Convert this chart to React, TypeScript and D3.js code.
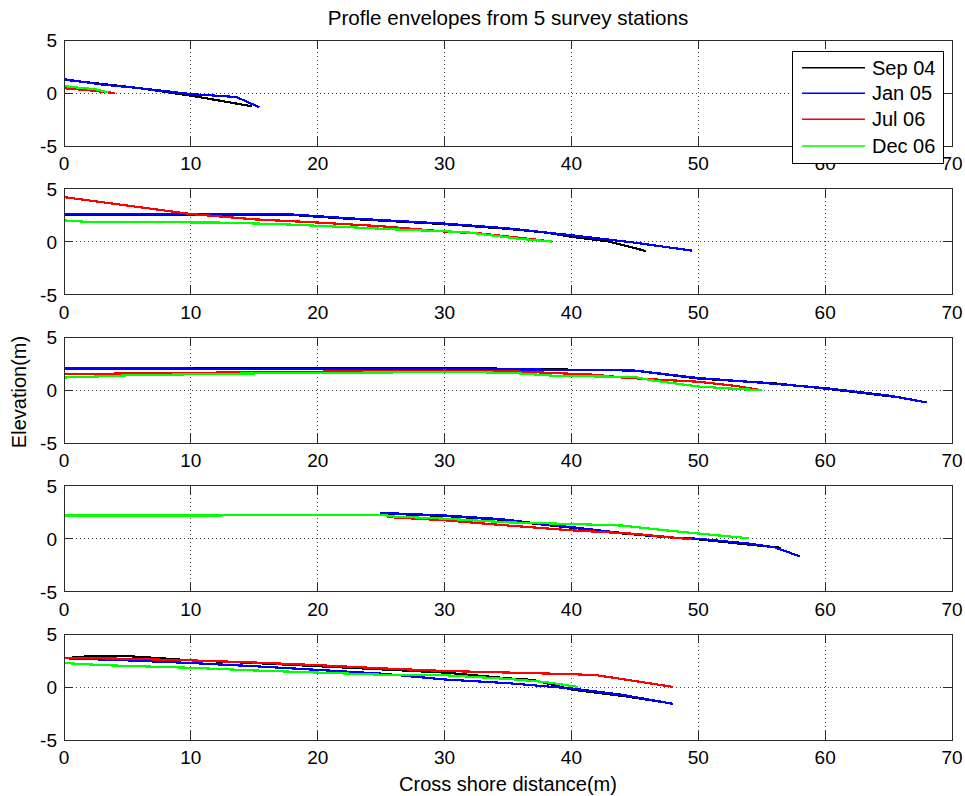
import React from "react";
import * as d3 from "d3";

type Pt = [number, number];

// Survey dates and their line colours
const seriesNames = ["Sep 04", "Jan 05", "Jul 06", "Dec 06"];
const seriesColors = ["#000000", "#0000ff", "#ff0000", "#00ff00"];

const xTicks = [0, 10, 20, 30, 40, 50, 60, 70];
const yTicks = [-5, 0, 5];
const xDomain: [number, number] = [0, 70];
const yDomain: [number, number] = [-5, 5];

// Station 1 profiles (cross-shore distance m, elevation m)
const st1Sep04: Pt[] = [[0, 1.25], [3, 0.85], [6, 0.45], [10, -0.25], [12.9, -0.85], [14.8, -1.25]];
const st1Jan05: Pt[] = [[0, 1.3], [3, 0.8], [6, 0.45], [10, -0.1], [13.6, -0.38], [15.4, -1.35]];
const st1Jul06: Pt[] = [[0, 0.45], [2, 0.25], [4, 0.0]];
const st1Dec06: Pt[] = [[0, 0.65], [1.2, 0.5], [2.5, 0.35], [3.5, 0.05]];

// Station 2
const st2Sep04: Pt[] = [[0, 2.55], [17.5, 2.55], [22.5, 2.15], [27, 1.85], [30, 1.65], [35, 1.2], [38, 0.85], [40, 0.45], [43, 0.0], [45.9, -0.9]];
const st2Jan05: Pt[] = [[0, 2.6], [17.5, 2.6], [22.5, 2.2], [27, 1.9], [30, 1.7], [35, 1.25], [40, 0.6], [45, -0.1], [49.5, -0.85]];
const st2Jul06: Pt[] = [[0, 4.2], [5, 3.4], [10, 2.6], [15, 2.1], [20, 1.8], [25, 1.45], [30, 0.95], [33, 0.75], [36, 0.35], [37.8, 0.1]];
const st2Dec06: Pt[] = [[0, 2.0], [2, 1.85], [12, 1.8], [17, 1.65], [22.5, 1.36], [27, 1.1], [30, 0.98], [32, 0.85], [34, 0.55], [36, 0.25], [38.5, 0.0]];

// Station 3
const st3Sep04: Pt[] = [[0, 2.0], [8.5, 2.1], [30, 2.1], [36.5, 2.0], [45, 1.85], [50, 1.1], [56, 0.65], [60, 0.15], [66, -0.7], [67.5, -1.05]];
const st3Jan05: Pt[] = [[0, 2.05], [8, 2.05], [16, 2.0], [30, 1.95], [36.5, 1.95], [44, 1.9], [45, 1.85], [50, 1.15], [55, 0.7], [60, 0.2], [65, -0.5], [68, -1.15]];
const st3Jul06: Pt[] = [[0, 1.5], [2.5, 1.55], [7.5, 1.6], [15, 1.7], [30, 1.85], [35, 1.8], [37, 1.7], [42, 1.45], [44, 1.2], [46, 1.05], [50, 0.8], [53, 0.4], [55, 0.0]];
const st3Dec06: Pt[] = [[0, 1.2], [1.6, 1.25], [5, 1.4], [10, 1.5], [16, 1.6], [28.7, 1.7], [31, 1.75], [35.7, 1.6], [38.8, 1.35], [45, 1.25], [46.2, 0.95], [50, 0.35], [53.3, 0.1], [55, 0.0]];

// Station 4
const st4Sep04: Pt[] = [[25, 2.4], [30, 2.15], [34.5, 1.8], [38, 1.3], [40, 1.05], [43.6, 0.55], [47.5, 0.15], [50, -0.05], [54, -0.55], [56.5, -0.85]];
const st4Jan05: Pt[] = [[24.9, 2.45], [30, 2.2], [34.5, 1.85], [38, 1.35], [40, 1.1], [43.6, 0.6], [47.5, 0.15], [50, 0.0], [54, -0.45], [56, -0.8], [58, -1.65]];
const st4Jul06: Pt[] = [[25.5, 2.05], [30, 1.75], [34.5, 1.3], [40, 0.8], [45, 0.47], [49.5, -0.05]];
const st4Dec06: Pt[] = [[0, 2.2], [12.4, 2.2], [12.5, 2.28], [25, 2.28], [26, 2.1], [30, 1.9], [35, 1.55], [40, 1.4], [44, 1.25], [47, 0.85], [50, 0.5], [54, 0.05]];

// Station 5
const st5Sep04: Pt[] = [[0, 2.75], [2, 2.95], [5, 2.95], [7, 2.8], [10, 2.55], [15, 2.3], [20, 2.0], [25, 1.7], [30, 1.4], [35, 0.85], [37, 0.7], [38.5, 0.25], [40, -0.2], [44, -0.8], [47.8, -1.5]];
const st5Jan05: Pt[] = [[0, 2.75], [5, 2.55], [10, 2.3], [15, 2.0], [20, 1.65], [25, 1.3], [30, 0.75], [35, 0.4], [40, -0.1], [44, -0.7], [48, -1.55]];
const st5Jul06: Pt[] = [[0, 2.8], [5, 2.7], [10, 2.55], [15, 2.35], [20, 2.1], [25, 1.8], [30, 1.55], [35, 1.4], [40, 1.25], [42, 1.15], [45, 0.6], [48, 0.05]];
const st5Dec06: Pt[] = [[0, 2.3], [3, 2.1], [10, 1.85], [15, 1.6], [20, 1.4], [25, 1.2], [30, 1.15], [35, 0.8], [38, 0.5], [40.5, 0.05]];

const stations: Pt[][][] = [
  [st1Sep04, st1Jan05, st1Jul06, st1Dec06],
  [st2Sep04, st2Jan05, st2Jul06, st2Dec06],
  [st3Sep04, st3Jan05, st3Jul06, st3Dec06],
  [st4Sep04, st4Jan05, st4Jul06, st4Dec06],
  [st5Sep04, st5Jan05, st5Jul06, st5Dec06],
];

const W = 965;
const H = 796;
const plotLeft = 64;
const plotRight = 952;
const panelTop0 = 40;
const panelStep = 148.6;
const panelH = 106;
const tickLen = 9;
const font = "'Liberation Sans', Arial, sans-serif";
const fontSize = 19;

const x = d3.scaleLinear().domain(xDomain).range([plotLeft, plotRight]);

function Panel({ idx, data }: { idx: number; data: Pt[][] }) {
  const top = panelTop0 + idx * panelStep;
  const bottom = top + panelH;
  const y = d3.scaleLinear().domain(yDomain).range([bottom, top]);
  const line = d3
    .line<Pt>()
    .x((d) => x(d[0]))
    .y((d) => y(d[1]));
  const axisColor = "#2a2a2a";
  return (
    <g>
      <rect x={plotLeft} y={top} width={plotRight - plotLeft} height={panelH} fill="#fff" />
      {/* dotted grid */}
      {xTicks.slice(1, -1).map((t) => (
        <line key={"gx" + t} x1={x(t)} x2={x(t)} y1={top} y2={bottom} stroke="#444" strokeWidth={1} strokeDasharray="1 3" shapeRendering="crispEdges" />
      ))}
      {yTicks.slice(1, -1).map((t) => (
        <line key={"gy" + t} x1={plotLeft} x2={plotRight} y1={y(t)} y2={y(t)} stroke="#444" strokeWidth={1} strokeDasharray="1 3" shapeRendering="crispEdges" />
      ))}
      {/* profile lines */}
      {data.map((pts, i) => (
        <path key={i} d={line(pts) || ""} fill="none" stroke={seriesColors[i]} strokeWidth={2.2} shapeRendering="crispEdges" />
      ))}
      {/* box and inward ticks */}
      <rect x={plotLeft} y={top} width={plotRight - plotLeft} height={panelH} fill="none" stroke={axisColor} strokeWidth={1} shapeRendering="crispEdges" />
      {xTicks.map((t) => (
        <g key={"tx" + t}>
          <line x1={x(t)} x2={x(t)} y1={bottom} y2={bottom - tickLen} stroke={axisColor} shapeRendering="crispEdges" />
          <line x1={x(t)} x2={x(t)} y1={top} y2={top + tickLen} stroke={axisColor} shapeRendering="crispEdges" />
          <text x={x(t)} y={bottom + 24} textAnchor="middle" fontFamily={font} fontSize={fontSize} fill="#000">
            {t}
          </text>
        </g>
      ))}
      {yTicks.map((t) => (
        <g key={"ty" + t}>
          <line x1={plotLeft} x2={plotLeft + tickLen} y1={y(t)} y2={y(t)} stroke={axisColor} shapeRendering="crispEdges" />
          <line x1={plotRight} x2={plotRight - tickLen} y1={y(t)} y2={y(t)} stroke={axisColor} shapeRendering="crispEdges" />
          <text x={plotLeft - 7} y={y(t) + 7} textAnchor="end" fontFamily={font} fontSize={fontSize} fill="#000">
            {t}
          </text>
        </g>
      ))}
    </g>
  );
}

function Legend() {
  const bx = 792;
  const by = 51;
  const bw = 151;
  const bh = 112;
  const rowY = [67.7, 93.3, 119.3, 146];
  return (
    <g>
      <rect x={bx} y={by} width={bw} height={bh} fill="#fff" stroke="#000" strokeWidth={1} shapeRendering="crispEdges" />
      {seriesNames.map((name, i) => (
        <g key={name}>
          <line x1={802} x2={865} y1={rowY[i]} y2={rowY[i]} stroke={seriesColors[i]} strokeWidth={1.5} />
          <text x={872} y={rowY[i] + 7} fontFamily={font} fontSize={20} fill="#000">
            {name}
          </text>
        </g>
      ))}
    </g>
  );
}

export default function App() {
  const midX = (plotLeft + plotRight) / 2;
  return (
    <svg width={W} height={H} style={{ position: "absolute", left: 0, top: 0, background: "#fff" }}>
      <rect x={0} y={0} width={W} height={H} fill="#fff" />
      {stations.map((data, i) => (
        <Panel key={i} idx={i} data={data} />
      ))}
      <text x={midX} y={25} textAnchor="middle" fontFamily={font} fontSize={20.6} fill="#000">
        Profle envelopes from 5 survey stations
      </text>
      <text x={midX} y={791} textAnchor="middle" fontFamily={font} fontSize={20} fill="#000">
        Cross shore distance(m)
      </text>
      <text transform={`translate(26, 392) rotate(-90)`} textAnchor="middle" fontFamily={font} fontSize={20} fill="#000">
        Elevation(m)
      </text>
      <Legend />
    </svg>
  );
}
